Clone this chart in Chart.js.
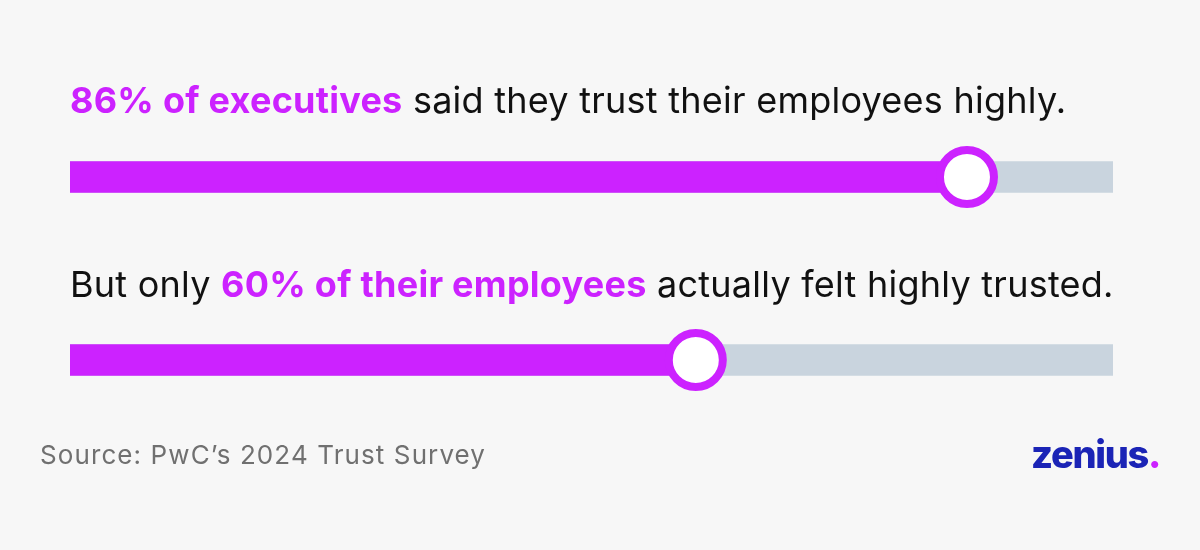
<!DOCTYPE html>
<html>
<head>
<meta charset="utf-8">
<script src="https://cdn.jsdelivr.net/npm/chart.js@4"></script>
<style>
  html, body { margin: 0; padding: 0; background: #f7f7f7; }
  #wrap { position: relative; width: 1200px; height: 550px; overflow: hidden; }
  canvas { position: absolute; left: 0; top: 0; }
  .line { position: absolute; left: 70px; font-family: Inter, sans-serif; font-size: 36px; line-height: 36px; color: #111; white-space: nowrap; letter-spacing: 0.25px; }
  .hl { color: #cc22ff; font-weight: 700; }
  #source { position: absolute; left: 40px; top: 442px; font-family: Inter, sans-serif; font-size: 26px; line-height: 26px; color: #707070; white-space: nowrap; letter-spacing: 1.1px; }
  #logo { position: absolute; left: 1031px; top: 435px; font-family: Inter, sans-serif; font-weight: 800; font-size: 38px; line-height: 38px; color: #1b24b6; letter-spacing: -1.3px; }
  #logo span { color: #cc22ff; }
</style>
</head>
<body>
<div id="wrap">
  <canvas id="chart" width="1200" height="550"></canvas>
  <div class="line" id="t1" style="top:82px"><span class="hl">86% of executives</span> said they trust their employees highly.</div>
  <div class="line" id="t2" style="top:266px">But only <span class="hl">60% of their employees</span> actually felt highly trusted.</div>
  <div id="source">Source: PwC’s 2024 Trust Survey</div>
  <div id="logo">zenius<span>.</span></div>
</div>
<script>
document.addEventListener("DOMContentLoaded", function () {
    const groups = ['executives', 'employees'];
    const trusted = [86, 60];
    const track = [100, 100];

    const ctx = document.getElementById('chart').getContext('2d');

    new Chart(ctx, {
        type: 'bar',
        data: {
            labels: groups,
            datasets: [{
                type: 'scatter',
                data: trusted.map((v, i) => ({ x: v, y: i })),
                pointRadius: 27,
                pointHoverRadius: 27,
                pointBorderWidth: 8,
                pointHoverBorderWidth: 8,
                pointBackgroundColor: '#ffffff',
                pointBorderColor: '#cc22ff',
                order: 0
            }, {
                data: trusted,
                backgroundColor: '#cc22ff',
                borderWidth: 0,
                barThickness: 31,
                grouped: false,
                order: 1
            }, {
                data: track,
                backgroundColor: '#c9d4de',
                borderWidth: 0,
                barThickness: 31,
                grouped: false,
                order: 2
            }]
        },
        options: {
            indexAxis: 'y',
            responsive: false,
            animation: false,
            layout: { padding: { left: 70, right: 87, top: 85.5, bottom: 98.5 } },
            plugins: { legend: { display: false }, tooltip: { enabled: false } },
            scales: {
                x: { type: 'linear', min: 0, max: 100, display: false },
                y: { type: 'category', display: false }
            }
        }
    });
});
</script>
</body>
</html>
